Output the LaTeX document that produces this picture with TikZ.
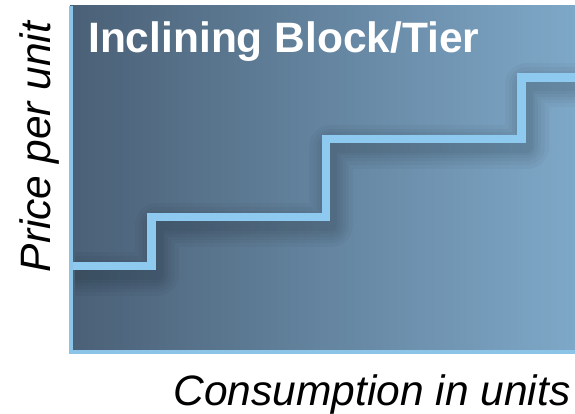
\documentclass[tikz,border=0pt]{standalone}
\usepackage{fontspec}
\setmainfont{Liberation Sans}
\definecolor{plotdark}{RGB}{74,96,118}
\definecolor{plotlight}{RGB}{126,168,200}
\definecolor{steplight}{RGB}{142,202,240}
\definecolor{axislight}{RGB}{140,196,232}
\tikzset{
  tierline/.style={draw=steplight, line width=8.5pt, line join=miter},
  tiershadow/.style={draw=black, line width=#1, opacity=0.03, line join=round},
  axisline/.style={draw=axislight, line width=4pt},
  bigtext/.style={font=\fontsize{42.5}{48}\selectfont\itshape, text=black, inner sep=0pt}
}
\begin{document}
\begin{tikzpicture}[x=1pt, y=-1pt]
  \useasboundingbox (0,0) rectangle (575,414);
  % fond du graphique
  \shade[left color=plotdark, right color=plotlight] (70,6) rectangle (575,352);
  % marches
  \foreach \x/\y [count=\i from 0] in {70/266, 151.5/266, 151.5/217, 326/217, 326/139, 521.5/139, 521.5/77.5, 580/77.5} {
    \coordinate (S\i) at (\x,\y);
  }
  \foreach \w in {44pt,36pt,29pt,23pt,17pt,12pt} {
    \draw[tiershadow=\w, transform canvas={shift={(5pt,-8pt)}}] (S0) -- (S1) -- (S2) -- (S3) -- (S4) -- (S5) -- (S6) -- (S7);
  }
  \draw[tierline] (S0) -- (S1) -- (S2) -- (S3) -- (S4) -- (S5) -- (S6) -- (S7);
  % axes
  \coordinate (top) at (71,6);
  \coordinate (origin) at (71,352);
  \coordinate (right) at (575,352);
  \draw[axisline] (top) -- (origin) -- (right);
  % textes
  \node[anchor=base west, inner sep=0pt, text=white, font=\fontsize{42.5}{48}\selectfont\bfseries] (title) at (88,53) {Inclining Block/Tier};
  \node[bigtext, rotate=90, anchor=base] (ylabel) at (50,147) {Price per unit};
  \node[bigtext, anchor=base] (xlabel) at (372,405) {Consumption in units};
\end{tikzpicture}
\end{document}
